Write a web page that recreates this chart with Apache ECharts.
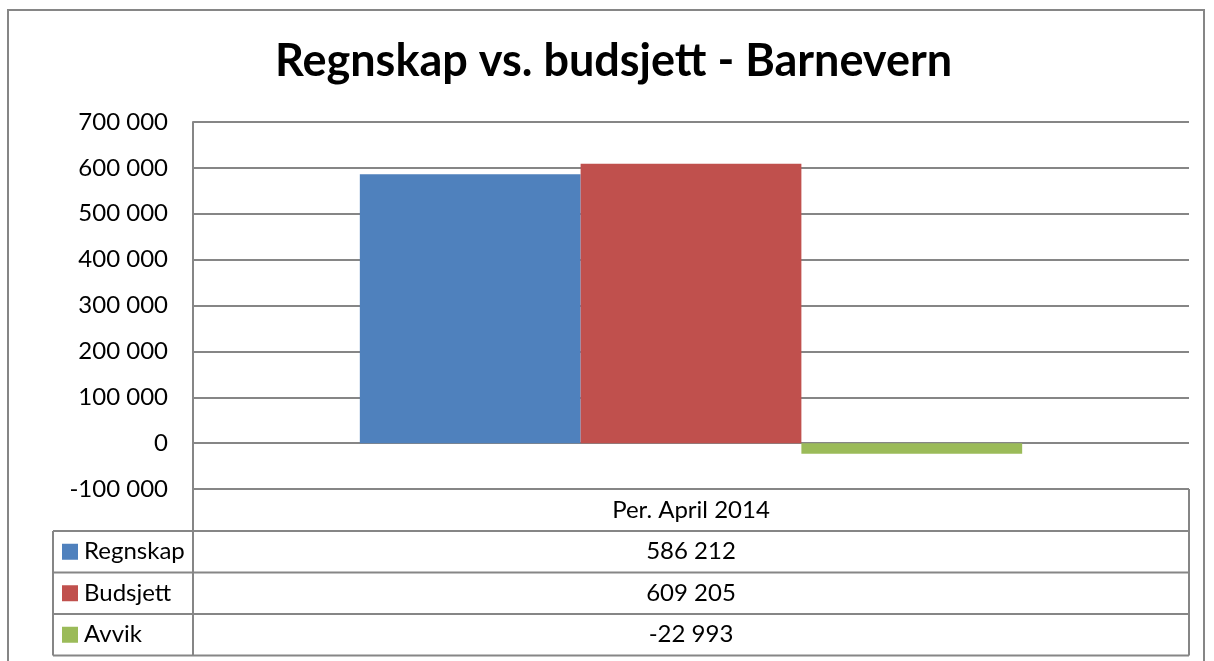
<!DOCTYPE html>
<html>
<head>
<meta charset="utf-8">
<script src="https://cdn.jsdelivr.net/npm/echarts@6/dist/echarts.min.js"></script>
<style>
  html, body { margin: 0; padding: 0; background: #fff; }
  #chart { width: 1214px; height: 661px; }
</style>
</head>
<body>
<div id="chart"></div>
<script>
// data
const categories = ['Per. April 2014'];
const seriesNames = ['Regnskap', 'Budsjett', 'Avvik'];
const regnskap = [586212];
const budsjett = [609205];
const avvik = [-22993];
const colors = ['#4F81BD', '#C0504D', '#9BBB59'];

const fmt = (v) => {
  const s = String(Math.abs(v)).replace(/\B(?=(\d{3})+(?!\d))/g, ' ');
  return (v < 0 ? '-' : '') + s;
};

const font = 'Lato, "Open Sans", sans-serif';
const lineColor = '#868686';

// layout of the data table (pixels)
const plotL = 193, plotR = 1189, tableTop = 489;
const keyL = 53, rowH = 41.5;
const rowTops = [531, 572.5, 614];
const tableBottom = 655.5;

const chart = echarts.init(document.getElementById('chart'));

const allSeries = [regnskap, budsjett, avvik];

const graphic = [];
// outer chart border
graphic.push({ type: 'rect', shape: { x: 8, y: 10, width: 1196, height: 700 }, style: { fill: 'none', stroke: lineColor, lineWidth: 2 }, silent: true });
// table horizontals
graphic.push({ type: 'line', shape: { x1: plotL, y1: tableTop, x2: plotR, y2: tableTop }, style: { stroke: lineColor, lineWidth: 2 } });
rowTops.concat([tableBottom]).forEach((y) => {
  graphic.push({ type: 'line', shape: { x1: keyL, y1: y, x2: plotR, y2: y }, style: { stroke: lineColor, lineWidth: 2 } });
});
// table verticals
graphic.push({ type: 'line', shape: { x1: plotL, y1: tableTop, x2: plotL, y2: tableBottom }, style: { stroke: lineColor, lineWidth: 2 } });
graphic.push({ type: 'line', shape: { x1: plotR, y1: tableTop, x2: plotR, y2: tableBottom }, style: { stroke: lineColor, lineWidth: 2 } });
graphic.push({ type: 'line', shape: { x1: keyL, y1: rowTops[0], x2: keyL, y2: tableBottom }, style: { stroke: lineColor, lineWidth: 2 } });
// rows: legend key, name, value
seriesNames.forEach((name, i) => {
  const cy = rowTops[i] + rowH / 2;
  graphic.push({ type: 'rect', shape: { x: 62, y: cy - 8, width: 16, height: 16 }, style: { fill: colors[i] } });
  graphic.push({ type: 'text', x: 84, y: cy, style: { text: name, font: '24px ' + font, fill: '#000', verticalAlign: 'middle' } });
  graphic.push({ type: 'text', x: (plotL + plotR) / 2, y: cy, style: { text: fmt(allSeries[i][0]), font: '24px ' + font, fill: '#000', align: 'center', verticalAlign: 'middle' } });
});

const options = {
  animation: false,
  backgroundColor: '#fff',
  title: {
    text: 'Regnskap vs. budsjett - Barnevern',
    left: 270,
    top: 34,
    textStyle: { fontFamily: font, fontWeight: 'bold', fontSize: 45, color: '#000' }
  },
  grid: { left: plotL, right: 1214 - plotR, top: 122, bottom: 661 - tableTop, containLabel: false },
  xAxis: {
    type: 'category',
    data: categories,
    axisLine: { show: false },
    axisTick: { show: false },
    axisLabel: { margin: 9, fontFamily: font, fontSize: 24, color: '#000' }
  },
  yAxis: {
    type: 'value',
    min: -100000,
    max: 700000,
    interval: 100000,
    axisLine: { show: true, lineStyle: { color: lineColor, width: 2 } },
    axisTick: { show: false },
    splitLine: { lineStyle: { color: lineColor, width: 2 } },
    axisLabel: { margin: 25, fontFamily: font, fontSize: 24, color: '#000', formatter: fmt }
  },
  series: seriesNames.map((name, i) => ({
    name: name,
    type: 'bar',
    data: allSeries[i],
    barGap: '0%',
    barCategoryGap: '33.5%',
    itemStyle: { color: colors[i] }
  })),
  graphic: graphic
};

chart.setOption(options);
</script>
</body>
</html>
